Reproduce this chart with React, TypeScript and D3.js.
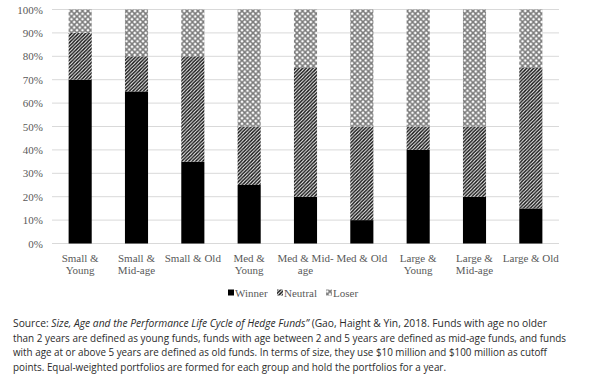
import React, { useEffect, useRef } from 'react';
import * as d3 from 'd3';

const categories = [
  'Small &\nYoung', 'Small &\nMid-age', 'Small & Old',
  'Med &\nYoung', 'Med & Mid-\nage', 'Med & Old',
  'Large &\nYoung', 'Large &\nMid-age', 'Large & Old',
];
const winner = [0.70, 0.65, 0.35, 0.25, 0.20, 0.10, 0.40, 0.20, 0.15];
const neutral = [0.20, 0.15, 0.45, 0.25, 0.55, 0.40, 0.10, 0.30, 0.60];
const loser = [0.10, 0.20, 0.20, 0.50, 0.25, 0.50, 0.50, 0.50, 0.25];
const seriesNames = ['Winner', 'Neutral', 'Loser'];
const yTicks = [0, 0.1, 0.2, 0.3, 0.4, 0.5, 0.6, 0.7, 0.8, 0.9, 1];

const sourceLines = [
  'than 2 years are defined as young funds, funds with age between 2 and 5 years are defined as mid-age funds, and funds',
  'with age at or above 5 years are defined as old funds. In terms of size, they use $10 million and $100 million as cutoff',
  'points. Equal-weighted portfolios are formed for each group and hold the portfolios for a year.',
];

const W = 602;
const H = 386;

export default function App() {
  const ref = useRef<SVGSVGElement>(null);

  useEffect(() => {
    if (!ref.current) return;
    const svg = d3.select(ref.current);
    svg.selectAll('*').remove();

    const serif = '"Liberation Serif", "Times New Roman", serif';
    const sans = '"Open Sans", "Noto Sans", sans-serif';

    // patterns for the Neutral / Loser fills
    const defs = svg.append('defs');
    const pNeutral = defs.append('pattern')
      .attr('id', 'pat-neutral')
      .attr('patternUnits', 'userSpaceOnUse')
      .attr('width', 3.5).attr('height', 3.5);
    pNeutral.append('rect').attr('width', 3.5).attr('height', 3.5).attr('fill', '#fff');
    pNeutral.append('path')
      .attr('d', 'M-1,1 L1,-1 M0,3.5 L3.5,0 M2.5,4.5 L4.5,2.5')
      .attr('stroke', '#111').attr('stroke-width', 1.4);

    const pLoser = defs.append('pattern')
      .attr('id', 'pat-loser')
      .attr('patternUnits', 'userSpaceOnUse')
      .attr('width', 5.5).attr('height', 5.5);
    pLoser.append('rect').attr('width', 5.5).attr('height', 5.5).attr('fill', '#fff');
    pLoser.append('path')
      .attr('d', 'M0,0 L5.5,5.5 M5.5,0 L0,5.5')
      .attr('stroke', '#7a7a7a').attr('stroke-width', 1.5);

    const fills = ['#000', 'url(#pat-neutral)', 'url(#pat-loser)'];

    svg.append('rect').attr('width', W).attr('height', H).attr('fill', '#fff');

    const x = d3.scaleBand()
      .domain(categories)
      .range([52, 559])
      .paddingInner(0.59)
      .paddingOuter(0.295);

    const y = d3.scaleLinear().domain([0, 1]).range([243.5, 9.5]);

    // gridlines
    svg.append('g')
      .selectAll('line')
      .data(yTicks)
      .join('line')
      .attr('x1', 52).attr('x2', 559)
      .attr('y1', d => y(d)).attr('y2', d => y(d))
      .attr('stroke', '#d9d9d9').attr('stroke-width', 1);

    // y tick labels
    svg.append('g')
      .selectAll('text')
      .data(yTicks)
      .join('text')
      .attr('x', 43)
      .attr('y', d => y(d) + 4)
      .attr('text-anchor', 'end')
      .attr('font-family', serif)
      .attr('font-size', 11)
      .attr('fill', '#595959')
      .text(d => d3.format('.0%')(d));

    // stacked bars
    const rows = categories.map((c, i) => ({ cat: c, Winner: winner[i], Neutral: neutral[i], Loser: loser[i] }));
    const stacked = d3.stack<any>().keys(seriesNames)(rows);

    svg.append('g')
      .selectAll('g')
      .data(stacked)
      .join('g')
      .attr('fill', (d, i) => fills[i])
      .selectAll('rect')
      .data(d => d)
      .join('rect')
      .attr('x', d => x(d.data.cat) ?? 0)
      .attr('width', x.bandwidth())
      .attr('y', d => y(d[1]))
      .attr('height', d => y(d[0]) - y(d[1]));

    // category labels
    const catG = svg.append('g')
      .attr('font-family', serif)
      .attr('font-size', 11)
      .attr('fill', '#595959')
      .attr('text-anchor', 'middle');
    categories.forEach(c => {
      const cx = (x(c) ?? 0) + x.bandwidth() / 2;
      c.split('\n').forEach((line, j) => {
        catG.append('text')
          .attr('x', cx)
          .attr('y', 261.5 + j * 12.5)
          .text(line);
      });
    });

    // legend
    const legendX = [228, 277, 326];
    const lg = svg.append('g').attr('font-family', serif).attr('font-size', 11).attr('fill', '#595959');
    seriesNames.forEach((name, i) => {
      lg.append('rect')
        .attr('x', legendX[i]).attr('y', 289.5)
        .attr('width', 6).attr('height', 6)
        .attr('fill', fills[i]);
      lg.append('text')
        .attr('x', legendX[i] + 7).attr('y', 296.5)
        .text(name);
    });

    // source note
    const note = svg.append('g').attr('font-family', sans).attr('font-size', 10.5).attr('fill', '#2b2b2b');
    const first = note.append('text')
      .attr('x', 13).attr('y', 327)
      .attr('textLength', 534).attr('lengthAdjust', 'spacingAndGlyphs');
    first.append('tspan').text('Source: ');
    first.append('tspan').attr('font-style', 'italic')
      .text('Size, Age and the Performance Life Cycle of Hedge Funds\u201D');
    first.append('tspan').text(' (Gao, Haight & Yin, 2018. Funds with age no older');

    const lens = [553, 534, 433];
    sourceLines.forEach((line, i) => {
      note.append('text')
        .attr('x', 13).attr('y', 341.5 + i * 14.5)
        .attr('textLength', lens[i]).attr('lengthAdjust', 'spacingAndGlyphs')
        .text(line);
    });
  }, []);

  return (
    <svg
      ref={ref}
      width={W}
      height={H}
      style={{ position: 'absolute', left: 0, top: 0, display: 'block' }}
    />
  );
}
